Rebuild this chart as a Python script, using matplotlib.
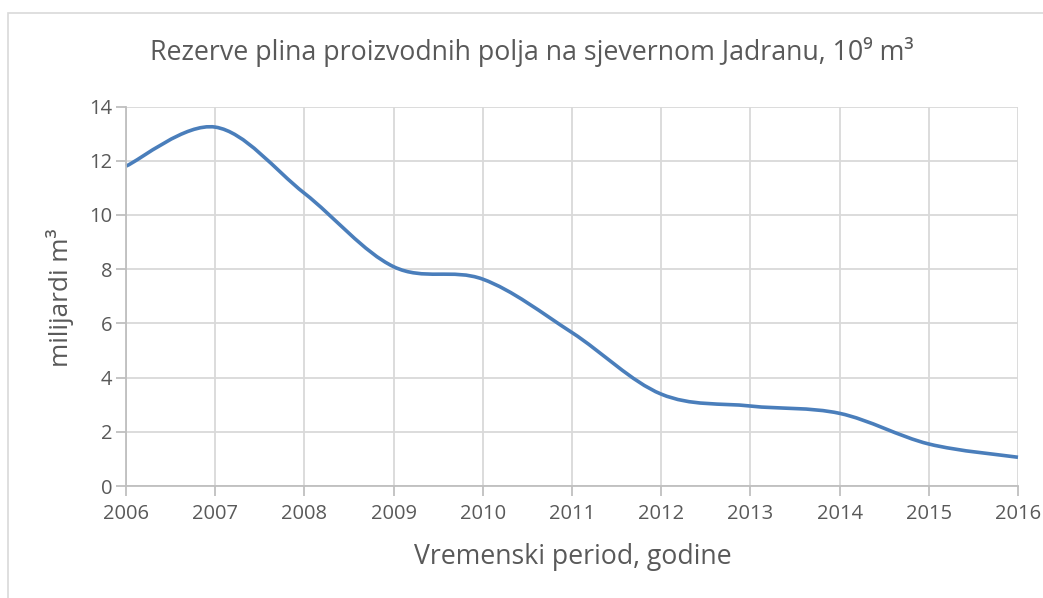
import numpy as np
import matplotlib
matplotlib.use("Agg")
import matplotlib.pyplot as plt
from matplotlib.path import Path
from matplotlib.patches import PathPatch, Rectangle

# data
years = [2006, 2007, 2008, 2009, 2010, 2011, 2012, 2013, 2014, 2015, 2016]
reserves = [11.8, 13.24, 10.8, 8.09, 7.63, 5.66, 3.39, 2.95, 2.68, 1.55, 1.06]
y_ticks = [0, 2, 4, 6, 8, 10, 12, 14]

title = "Rezerve plina proizvodnih polja na sjevernom Jadranu, 10⁹ m³"
x_label = "Vremenski period, godine"
y_label = "milijardi m³"

plt.rcParams['font.family'] = ['Open Sans', 'DejaVu Sans']
text_col = '#595959'
grid_col = '#d9d9d9'
axis_col = '#bfbfbf'
line_col = '#4a7ebb'

fig = plt.figure(figsize=(10.43, 5.98), dpi=100)
W, H = 1043, 598

# chart area border (only left/top visible in the crop)
fig.patches.append(Rectangle((8 / W, -0.1), 1.2, 1 - 13 / H + 0.1, transform=fig.transFigure,
                             fill=False, edgecolor='#d9d9d9', linewidth=1.2))

ax = fig.add_axes([126 / W, 1 - 486 / H, (1018 - 126) / W, (486 - 106.5) / H])
ax.set_xlim(years[0], years[-1])
ax.set_ylim(0, 14)
ax.set_xticks(years)
ax.set_yticks(y_ticks)
ax.grid(True, color=grid_col, linewidth=1.3)
ax.set_axisbelow(True)
for s in ['top', 'right']:
    ax.spines[s].set_visible(False)
for s in ['left', 'bottom']:
    ax.spines[s].set_color(axis_col)
    ax.spines[s].set_linewidth(1.3)
ax.tick_params(axis='both', colors=axis_col, length=7, width=1.3, labelcolor=text_col, labelsize=14.5)
ax.tick_params(axis='x', pad=6)
ax.tick_params(axis='y', pad=3)

# smoothed line like spreadsheet "smooth line" (cubic bezier through the points)
x = np.array(years, dtype=float)
y = np.array(reserves, dtype=float)
n = len(x)
verts = [(x[0], y[0])]
codes = [Path.MOVETO]
for i in range(n - 1):
    i0 = max(i - 1, 0)
    i3 = min(i + 2, n - 1)
    c1 = (x[i] + (x[i + 1] - x[i0]) / 6, y[i] + (y[i + 1] - y[i0]) / 6)
    c2 = (x[i + 1] - (x[i3] - x[i]) / 6, y[i + 1] - (y[i3] - y[i]) / 6)
    verts += [c1, c2, (x[i + 1], y[i + 1])]
    codes += [Path.CURVE4] * 3
ax.add_patch(PathPatch(Path(verts, codes), facecolor='none', edgecolor=line_col,
                       linewidth=2.6, capstyle='butt', clip_on=False))

fig.text(532 / W, 1 - 52 / H, title, ha='center', va='center', fontsize=19.3, color=text_col)
fig.text(573 / W, 1 - 557 / H, x_label, ha='center', va='center', fontsize=19.2, color=text_col)
fig.text(60 / W, 1 - 298 / H, y_label, ha='center', va='center', rotation=90, fontsize=18.8, color=text_col)

fig.savefig("out.png", dpi=100, facecolor='white')
